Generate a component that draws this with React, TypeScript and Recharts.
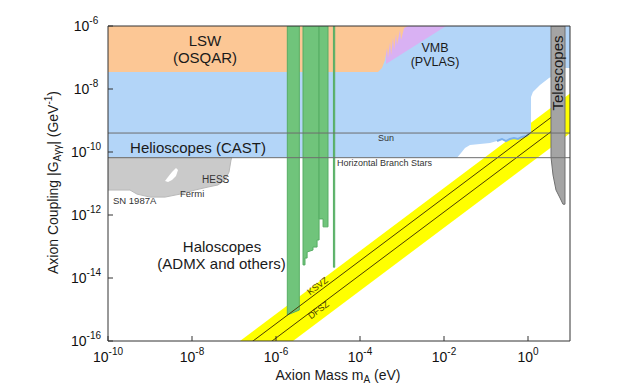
import { ComposedChart, Area, Line, XAxis, YAxis, ReferenceLine } from 'recharts'

const FONT = 'Arial, "Liberation Sans", Helvetica, sans-serif'
const W = 611
const H = 383

const X_TICKS = [1e-10, 1e-8, 1e-6, 1e-4, 1e-2, 1]
const Y_TICKS = [1e-16, 1e-14, 1e-12, 1e-10, 1e-8, 1e-6]
const G_MAX = 1e-6

// reference couplings (GeV^-1)
const G_SUN = 4.0e-10
const G_HB = 6.6e-11

// [mass eV, lower edge of excluded coupling] - upper edge is the top of the plot
const LSW_OSQAR: [number, number][] = [
  [1e-10, 3.47e-8], [2.68e-4, 3.47e-8], [3.34e-4, 4.6e-8], [3.94e-4, 8.3e-8],
  [4.4e-4, 2.0e-7], [4.64e-4, 9.6e-8], [5.2e-4, 3.1e-7], [5.5e-4, 1.2e-7],
  [6.1e-4, 4.2e-7], [6.5e-4, 1.73e-7], [7.2e-4, 5.6e-7], [7.6e-4, 2.5e-7],
  [8.95e-4, 7.5e-7], [9.5e-4, 3.6e-7], [1.12e-3, 8.6e-7], [1.39e-3, 1e-6],
]
const VMB_PVLAS: [number, number][] = [[4.16e-4, 6.2e-8], [1.12e-2, 1e-6]]
const HELIOSCOPES: [number, number][] = [
  [1e-10, 6.6e-11], [2.04e-2, 6.6e-11], [2.54e-2, 9.3e-11], [3.16e-2, 1.34e-10],
  [4.16e-2, 1.67e-10], [7.2e-2, 1.8e-10], [0.124, 1.93e-10], [0.183, 2.23e-10],
  [0.24, 2.59e-10], [0.3, 2.23e-10], [0.372, 2.59e-10], [0.464, 2.78e-10],
  [0.578, 2.59e-10], [0.72, 2.99e-10], [0.9, 3.22e-10], [1.12, 4.0e-10],
  [1.18, 4.3e-10], [1.18, 5.6e-9], [1.31, 8.0e-9], [1.93, 1.34e-8],
  [3.16, 2.23e-8], [3.53, 2.4e-8], [7.6, 4.6e-8], [10, 4.6e-8],
]
const SUN_EDGE: [number, number][] = [
  [0.183, 2.23e-10], [0.24, 2.59e-10], [0.3, 2.23e-10], [0.372, 2.59e-10],
  [0.464, 2.78e-10], [0.578, 2.59e-10], [0.72, 2.99e-10], [0.9, 3.22e-10], [1.12, 4.0e-10],
]
// astrophysics (SN 1987A, Fermi, HESS): upper edge is the HB line
const ASTRO: [number, number][] = [
  [1e-10, 6.2e-12], [3.34e-10, 6.2e-12], [4.9e-10, 4.6e-12], [1e-9, 3.7e-12],
  [2.28e-9, 3.7e-12], [5.2e-9, 4.6e-12], [1.18e-8, 6.2e-12], [2.4e-8, 7.7e-12],
  [4.16e-8, 9.0e-12], [6.1e-8, 1.29e-11], [7.6e-8, 2.3e-11], [8.5e-8, 5.6e-11], [8.9e-8, 6.6e-11],
]
const ASTRO_HOLE: [number, number, number][] = [
  [2.28e-9, 1.2e-11, 1.2e-11], [2.68e-9, 1.12e-11, 1.61e-11], [3.34e-9, 1.29e-11, 2.3e-11],
  [4.16e-9, 1.73e-11, 3.1e-11], [4.64e-9, 2.68e-11, 2.68e-11],
]
// haloscopes (ADMX and others)
const ADMX_1: [number, number][] = [[1.86e-6, 6.7e-16], [3.59e-6, 9.6e-16]]
const ADMX_2: [number, number][] = [
  [4.4e-6, 2.6e-14], [4.9e-6, 2.6e-14], [4.9e-6, 4.3e-14], [5.5e-6, 4.3e-14],
  [5.5e-6, 6.7e-14], [7.6e-6, 7.7e-14], [7.6e-6, 9.6e-14], [9.5e-6, 9.6e-14],
  [9.5e-6, 1.61e-13], [1.06e-5, 1.61e-13],
]
const ADMX_3: [number, number][] = [[1.06e-5, 7.5e-13], [1.32e-5, 7.5e-13], [1.32e-5, 4.2e-13], [1.73e-5, 4.2e-13]]
const ADMX_4: [number, number][] = [[2.33e-5, 2.2e-14], [2.5e-5, 2.2e-14]]
const TELESCOPES: [number, number][] = [
  [3.53, 6.9e-11], [3.94, 1.86e-11], [4.64, 6.2e-12], [5.78, 3.47e-12], [6.81, 2.2e-12], [7.6, 2.2e-12],
]
// QCD axion band and model lines: [mass, coupling]
const BAND: [number, number, number][] = [[1e-7, 3.94e-18, 7.2e-17], [10, 3.94e-10, 7.2e-9]]
const KSVZ: [number, number][] = [[1e-7, 3.53e-17], [3.53, 1.25e-9]]
const DFSZ: [number, number][] = [[1e-7, 1.24e-17], [3.53, 4.4e-10]]

const toRange = (pts: [number, number][], hi: number) => pts.map(([m, lo]) => ({ m, r: [lo, hi] }))
const toBar = (pts: [number, number][]) => {
  const first = pts[0][0]
  const last = pts[pts.length - 1][0]
  return [{ m: first, r: [G_MAX, G_MAX] }, ...toRange(pts, G_MAX), { m: last, r: [G_MAX, G_MAX] }]
}
const toLine = (pts: [number, number][]) => pts.map(([m, g]) => ({ m, g }))

const XTick = (props: any) => {
  const { x, y, payload } = props
  const exp = Math.round(Math.log10(payload.value))
  return (
    <text x={x} y={y + 21} textAnchor="middle" fontFamily={FONT} fill="#111">
      <tspan fontSize={14}>10</tspan>
      <tspan fontSize={10} dy={-7}>{exp}</tspan>
    </text>
  )
}

const YTick = (props: any) => {
  const { x, y, payload } = props
  const exp = Math.round(Math.log10(payload.value))
  return (
    <text x={x - 22} y={y + 5} textAnchor="middle" fontFamily={FONT} fill="#111">
      <tspan fontSize={14}>10</tspan>
      <tspan fontSize={10} dy={-7}>{exp}</tspan>
    </text>
  )
}

const area = {
  type: 'linear' as const,
  dataKey: 'r',
  fillOpacity: 1,
  isAnimationActive: false,
  dot: false,
  activeDot: false,
}

export default function App() {
  return (
    <div style={{ position: 'relative', width: W, height: H }}>
      <ComposedChart width={W} height={H} margin={{ top: 17, right: 48, bottom: 0, left: 0 }}>
        <XAxis
          dataKey="m" type="number" scale="log" domain={[1e-10, 10]} allowDataOverflow
          ticks={X_TICKS} height={50} tickSize={-5} tickMargin={5}
          stroke="#333" tick={<XTick />}
        />
        <XAxis
          xAxisId="top" orientation="top" dataKey="m" type="number" scale="log" domain={[1e-10, 10]}
          allowDataOverflow ticks={X_TICKS} height={1} tickSize={-5} tick={false} stroke="#333"
        />
        <YAxis
          type="number" scale="log" domain={[1e-16, 1e-6]} allowDataOverflow
          ticks={Y_TICKS} width={100} tickSize={-5} tickMargin={5}
          stroke="#333" tick={<YTick />}
        />
        <YAxis
          yAxisId="right" orientation="right" type="number" scale="log" domain={[1e-16, 1e-6]}
          allowDataOverflow ticks={Y_TICKS} width={1} tickSize={-5} tick={false} stroke="#333"
        />

        <Area {...area} data={BAND.map(([m, lo, hi]) => ({ m, r: [lo, hi] }))} stroke="none" fill="#ffff00" />
        <Area {...area} data={toRange(HELIOSCOPES, G_MAX)} stroke="none" fill="#b3d5f8" />
        <Area {...area} data={toRange(VMB_PVLAS, G_MAX)} stroke="none" fill="#d9b1f3" />
        <Area {...area} data={toRange(LSW_OSQAR, G_MAX)} stroke="none" fill="#fcc795" />
        <Area {...area} data={toRange(ASTRO, G_HB)} stroke="#b8b8b8" fill="#cacaca" />
        <Area {...area} data={ASTRO_HOLE.map(([m, lo, hi]) => ({ m, r: [lo, hi] }))} stroke="none" fill="#ffffff" />
        <Area {...area} data={toBar(ADMX_1)} stroke="#56ad64" fill="#70c47b" />
        <Area {...area} data={toBar(ADMX_2)} stroke="#56ad64" fill="#70c47b" />
        <Area {...area} data={toBar(ADMX_3)} stroke="#56ad64" fill="#70c47b" />
        <Area {...area} data={toBar(ADMX_4)} stroke="#56ad64" fill="#70c47b" />

        <Line data={toLine(SUN_EDGE)} dataKey="g" type="linear" stroke="#7cb0ea" strokeWidth={2} dot={false} activeDot={false} isAnimationActive={false} />
        <Line data={toLine(KSVZ)} dataKey="g" type="linear" stroke="#4a3c00" strokeWidth={1} dot={false} activeDot={false} isAnimationActive={false} />
        <Line data={toLine(DFSZ)} dataKey="g" type="linear" stroke="#4a3c00" strokeWidth={1} dot={false} activeDot={false} isAnimationActive={false} />
        <ReferenceLine y={G_SUN} stroke="#6e6e6e" strokeWidth={1} />
        <ReferenceLine y={G_HB} stroke="#6e6e6e" strokeWidth={1} />

        <Area {...area} data={toBar(TELESCOPES)} stroke="#707070" fill="#a4a4a4" />
      </ComposedChart>

      <svg
        width={W} height={H}
        style={{ position: 'absolute', left: 0, top: 0, pointerEvents: 'none', overflow: 'visible' }}
        fontFamily={FONT}
      >
        <g fill="#1a1a1a" textAnchor="middle">
          <text x={197} y={38} fontSize={15}>LSW</text>
          <text x={197} y={55} fontSize={15}>(OSQAR)</text>
          <text x={190} y={145} fontSize={15}>Helioscopes (CAST)</text>
          <text x={427} y={44} fontSize={12.5}>VMB</text>
          <text x={427} y={58} fontSize={12.5}>(PVLAS)</text>
          <text x={214} y={244} fontSize={15}>Haloscopes</text>
          <text x={213.5} y={261} fontSize={15}>(ADMX and others)</text>
          <text x={555} y={65} fontSize={15} transform="rotate(-90 555 65)">Telescopes</text>
        </g>
        <g fill="#333" fontSize={9}>
          <text x={378} y={133} textAnchor="middle">Sun</text>
          <text x={329} y={157.5}>Horizontal Branch Stars</text>
          <text x={194} y={175} fontSize={10}>HESS</text>
          <text x={172} y={189} fontSize={9.5}>Fermi</text>
          <text x={105} y={196} fontSize={9.5}>SN 1987A</text>
        </g>
        <g fill="#4a3c00" fontSize={9} textAnchor="middle" dominantBaseline="central">
          <text x={309.5} y={278} transform="rotate(-36.87 309.5 278)">KSVZ</text>
          <text x={310.5} y={302} transform="rotate(-36.87 310.5 302)">DFSZ</text>
        </g>
        <text x={330} y={372} fontSize={14} textAnchor="middle" fill="#1a1a1a">
          Axion Mass m<tspan fontSize={10} dy={3}>A</tspan><tspan dy={-3}> (eV)</tspan>
        </text>
        <text
          x={49.5} y={174.5} fontSize={14} textAnchor="middle" fill="#1a1a1a"
          transform="rotate(-90 49.5 174.5)"
        >
          Axion Coupling |G<tspan fontSize={10} dy={3}>Aγγ</tspan>
          <tspan dy={-3}>| (GeV</tspan><tspan fontSize={10} dy={-6}>-1</tspan><tspan dy={6}>)</tspan>
        </text>
      </svg>
    </div>
  )
}
